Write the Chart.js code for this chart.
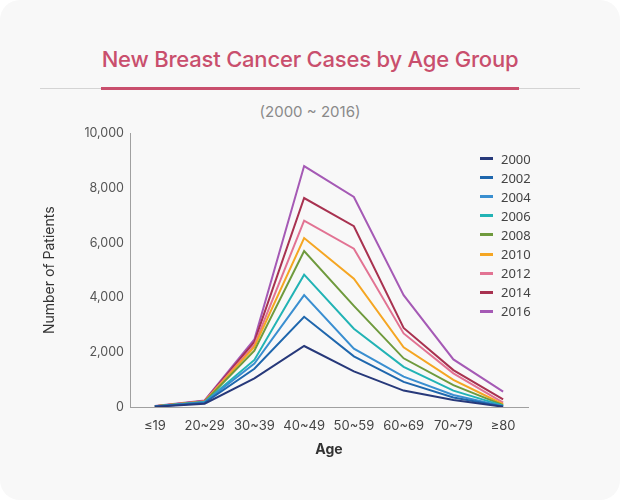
<!DOCTYPE html>
<html>
<head>
<meta charset="utf-8">
<script src="https://cdn.jsdelivr.net/npm/chart.js@4/dist/chart.umd.min.js"></script>
<style>
  html, body { margin: 0; padding: 0; background: #ffffff; }
  #card {
    position: relative;
    width: 620px;
    height: 500px;
    background: #f8f8f8;
    border-radius: 20px;
    overflow: hidden;
    font-family: Inter, "Noto Sans", sans-serif;
  }
  #title {
    position: absolute; left: 0; top: 46px; width: 620px;
    text-align: center; font-size: 22px; font-weight: 500; color: #c94f6d;
    letter-spacing: -0.2px;
  }
  #rule { position: absolute; left: 40px; top: 88px; width: 540px; height: 1px; background: #d4d4d4; }
  #accent { position: absolute; left: 101px; top: 87px; width: 418px; height: 3px; background: #c94f6d; }
  #subtitle {
    position: absolute; left: 0; top: 102px; width: 620px;
    text-align: center; font-size: 15px; color: #8a8a8a;
  }
  #chartBox { position: absolute; left: 0; top: 120px; width: 620px; height: 360px; }
  #legend {
    position: absolute; left: 480px; top: 149px;
    font-family: "Noto Sans", sans-serif; font-size: 13px; color: #444;
  }
  .item { height: 19.1px; display: flex; align-items: center; }
  .swatch { width: 13px; height: 3px; margin-right: 8px; }
</style>
</head>
<body>
<div id="card">
  <div id="title">New Breast Cancer Cases by Age Group</div>
  <div id="rule"></div>
  <div id="accent"></div>
  <div id="subtitle">(2000 ~ 2016)</div>
  <div id="chartBox"><canvas id="chart" width="620" height="360"></canvas></div>
  <div id="legend"></div>
</div>
<script>
  const ageGroups = ['≤19', '20~29', '30~39', '40~49', '50~59', '60~69', '70~79', '≥80'];
  const years = ['2000', '2002', '2004', '2006', '2008', '2010', '2012', '2014', '2016'];
  const lineColors = ['#27397a', '#1f67ad', '#3a8fd0', '#22b3b5', '#6f9a3d', '#f5a623', '#e27393', '#a83250', '#a55ab5'];

  // patients per age group, one array per year
  const cases2000 = [10, 120, 1050, 2230, 1300, 600, 260, 10];
  const cases2002 = [15, 150, 1400, 3300, 1850, 920, 350, 20];
  const cases2004 = [20, 170, 1590, 4090, 2130, 1110, 440, 30];
  const cases2006 = [22, 180, 1720, 4840, 2860, 1470, 600, 50];
  const cases2008 = [25, 190, 2060, 5700, 3700, 1780, 800, 70];
  const cases2010 = [28, 200, 2200, 6180, 4690, 2180, 990, 100];
  const cases2012 = [30, 210, 2260, 6810, 5790, 2690, 1230, 160];
  const cases2014 = [32, 220, 2380, 7640, 6610, 2890, 1350, 280];
  const cases2016 = [40, 240, 2470, 8810, 7680, 4090, 1740, 560];
  const allCases = [cases2000, cases2002, cases2004, cases2006, cases2008, cases2010, cases2012, cases2014, cases2016];

  const yTicks = [0, 2000, 4000, 6000, 8000, 10000];

  const datasets = years.map((year, i) => ({
    label: year,
    data: allCases[i],
    borderColor: lineColors[i],
    backgroundColor: lineColors[i],
    borderWidth: 2,
    pointRadius: 0,
    tension: 0,
    fill: false
  }));

  const chart = new Chart(document.getElementById('chart'), {
    type: 'line',
    data: { labels: ageGroups, datasets: datasets },
    options: {
      responsive: false,
      animation: false,
      layout: { padding: { top: 13, right: 92, bottom: 18, left: 37 } },
      plugins: {
        legend: { display: false },
        tooltip: { enabled: false }
      },
      scales: {
        x: {
          offset: true,
          afterFit: scale => { scale.height = 55; },
          grid: { display: false, drawTicks: false },
          border: { display: true, color: '#a0a0a0', width: 1 },
          ticks: { color: '#444', padding: 11, maxRotation: 0, font: { family: 'Inter', size: 13 } },
          title: {
            display: true, text: 'Age', color: '#333',
            font: { family: 'Inter', size: 14, weight: 'bold' },
            padding: { top: 8, bottom: 4 }
          }
        },
        y: {
          min: 0,
          max: 10000,
          afterFit: scale => { scale.width = 93; },
          afterBuildTicks: scale => { scale.ticks = yTicks.map(v => ({ value: v })); },
          grid: { display: false, drawTicks: false },
          border: { display: true, color: '#a0a0a0', width: 1 },
          ticks: {
            color: '#555', padding: 6,
            font: { family: 'Inter', size: 12.5 },
            callback: v => v.toLocaleString('en-US')
          },
          title: {
            display: true, text: 'Number of Patients', color: '#333',
            font: { family: 'Inter', size: 14 },
            padding: { top: 4, bottom: 4 }
          }
        }
      }
    }
  });

  // html legend built from the chart datasets
  const legendBox = document.getElementById('legend');
  chart.data.datasets.forEach(ds => {
    const row = document.createElement('div');
    row.className = 'item';
    const sw = document.createElement('span');
    sw.className = 'swatch';
    sw.style.background = ds.borderColor;
    const txt = document.createElement('span');
    txt.textContent = ds.label;
    row.appendChild(sw);
    row.appendChild(txt);
    legendBox.appendChild(row);
  });
</script>
</body>
</html>
